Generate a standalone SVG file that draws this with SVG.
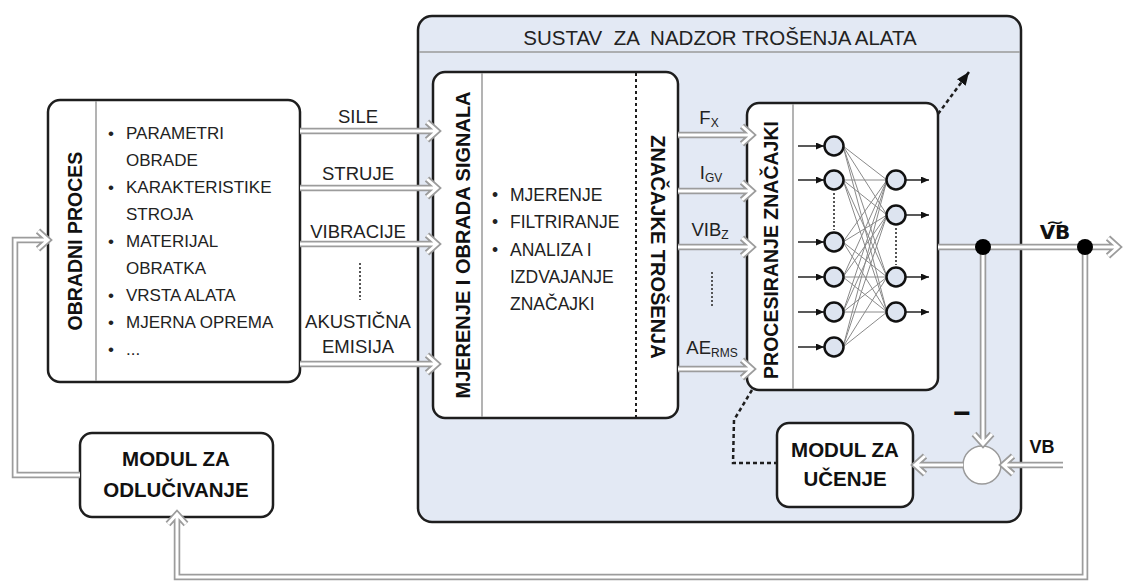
<svg xmlns="http://www.w3.org/2000/svg" width="1123" height="581" viewBox="0 0 1123 581">
<defs>
<style>
text{font-family:"Liberation Sans",Arial,sans-serif;fill:#222}
.t{font-size:17px}
.t2{font-size:17.5px}
.lb{font-size:18.5px}
.b{font-weight:bold;fill:#111}
.box{fill:#fff;stroke:#1e1e1e;stroke-width:2.5}
.sys{fill:#e3e9f4;stroke:#1e1e1e;stroke-width:2.5}
.div{stroke:#9a9a9a;stroke-width:1.5}
.out{fill:none;stroke:#9c9c9c;stroke-width:6.5;stroke-linejoin:miter}
.in{fill:none;stroke:#fff;stroke-width:3;stroke-linejoin:miter}
.nn{fill:none;stroke:#8a8a8a;stroke-width:1}
.nd{fill:#dde4f0;stroke:#111;stroke-width:2.5}
.ar{stroke:#222;stroke-width:1.5;marker-end:url(#tri)}
.dot{stroke:#555;stroke-width:2;stroke-dasharray:2 2;fill:none}
.dash{fill:none;stroke:#1e1e1e;stroke-width:2.5;stroke-dasharray:4 3}
</style>
<marker id="tri" viewBox="0 0 8 7" refX="8" refY="3.5" markerWidth="8" markerHeight="7" markerUnits="userSpaceOnUse" orient="auto"><path d="M0,0L8,3.5L0,7z" fill="#111"/></marker>
<marker id="big" viewBox="0 0 12 10" refX="12" refY="5" markerWidth="13" markerHeight="11" markerUnits="userSpaceOnUse" orient="auto"><path d="M0,0L12,5L0,10z" fill="#111"/></marker>
<path id="a1" d="M300,131H437M427,122L437,131L427,140"/>
<path id="a2" d="M300,188H437M427,179L437,188L427,197"/>
<path id="a3" d="M300,244H437M427,235L437,244L427,253"/>
<path id="a4" d="M300,364H437M427,355L437,364L427,373"/>
<path id="a5" d="M678,135H752M742,126L752,135L742,144"/>
<path id="a6" d="M678,191H752M742,182L752,191L742,200"/>
<path id="a7" d="M678,247H752M742,238L752,247L742,256"/>
<path id="a8" d="M678,369H752M742,360L752,369L742,378"/>
<path id="a9" d="M938,247H1118M1108,238L1118,247L1108,256"/>
<path id="a10" d="M983,247V444M974,434L983,444L992,434"/>
<path id="a11" d="M1085,247V577H177V514M168,524L177,514L186,524"/>
<path id="a12" d="M1063,465H1003M1013,456L1003,465L1013,474"/>
<path id="a13" d="M963,465H915M925,456L915,465L925,474"/>
<path id="a14" d="M80,475H15V240H48M38,231L48,240L38,249"/>
</defs>
<rect width="1123" height="581" fill="#fff"/>

<g id="sustav">
<rect class="sys" x="418" y="16" width="603" height="506" rx="14"/>
<line class="div" x1="419" y1="52" x2="1020" y2="52"/>
<text x="720" y="45" text-anchor="middle" xml:space="preserve" style="font-size:20.5px;white-space:pre">SUSTAV  ZA  NADZOR TROŠENJA ALATA</text>
</g>

<g id="obradni-proces">
<rect class="box" x="48" y="100" width="252" height="282" rx="12"/>
<line class="div" x1="96" y1="101" x2="96" y2="381"/>
<text class="b" transform="translate(82,241) rotate(-90)" text-anchor="middle" style="font-size:19.5px">OBRADNI PROCES</text>
<g class="t">
<text x="108" y="139">•</text><text x="126" y="139">PARAMETRI</text>
<text x="126" y="166">OBRADE</text>
<text x="108" y="193">•</text><text x="126" y="193">KARAKTERISTIKE</text>
<text x="126" y="220">STROJA</text>
<text x="108" y="247">•</text><text x="126" y="247">MATERIJAL</text>
<text x="126" y="274">OBRATKA</text>
<text x="108" y="301">•</text><text x="126" y="301">VRSTA ALATA</text>
<text x="108" y="328">•</text><text x="126" y="328">MJERNA OPREMA</text>
<text x="108" y="355">•</text><text x="126" y="355">...</text>
</g>
</g>

<g id="mjerenje">
<rect class="box" x="433" y="72" width="245" height="346" rx="12"/>
<line class="div" x1="482" y1="73" x2="482" y2="417"/>
<line x1="636" y1="73" x2="636" y2="417" stroke="#1e1e1e" stroke-width="2" stroke-dasharray="3 3"/>
<text class="b" transform="translate(470,245) rotate(-90)" text-anchor="middle" style="font-size:20px">MJERENJE I OBRADA SIGNALA</text>
<text class="b" transform="translate(651,247) rotate(90)" text-anchor="middle" style="font-size:20px">ZNAČAJKE TROŠENJA</text>
<g class="t2">
<text x="492" y="201">•</text><text x="510" y="201">MJERENJE</text>
<text x="492" y="228">•</text><text x="510" y="228">FILTRIRANJE</text>
<text x="492" y="256">•</text><text x="510" y="256">ANALIZA I</text>
<text x="510" y="283">IZDVAJANJE</text>
<text x="510" y="310">ZNAČAJKI</text>
</g>
</g>

<g id="procesiranje">
<rect class="box" x="747" y="103" width="191" height="287" rx="12"/>
<line class="div" x1="793" y1="104" x2="793" y2="389"/>
<text class="b" transform="translate(778,250) rotate(-90)" text-anchor="middle" style="font-size:19.5px">PROCESIRANJE ZNAČAJKI</text>
<path class="nn" d="M843,146L887,180M843,146L887,215M843,146L887,277M843,146L887,312M843,180L887,180M843,180L887,215M843,180L887,277M843,180L887,312M843,242L887,180M843,242L887,215M843,242L887,277M843,242L887,312M843,277L887,180M843,277L887,215M843,277L887,277M843,277L887,312M843,312L887,180M843,312L887,215M843,312L887,277M843,312L887,312M843,347L887,180M843,347L887,215M843,347L887,277M843,347L887,312"/>
<line class="ar" x1="798" y1="146" x2="824" y2="146"/>
<line class="ar" x1="798" y1="180" x2="824" y2="180"/>
<line class="ar" x1="798" y1="242" x2="824" y2="242"/>
<line class="ar" x1="798" y1="277" x2="824" y2="277"/>
<line class="ar" x1="798" y1="312" x2="824" y2="312"/>
<line class="ar" x1="798" y1="347" x2="824" y2="347"/>
<line class="ar" x1="906" y1="180" x2="929" y2="180"/>
<line class="ar" x1="906" y1="215" x2="929" y2="215"/>
<line class="ar" x1="906" y1="277" x2="929" y2="277"/>
<line class="ar" x1="906" y1="312" x2="929" y2="312"/>
<circle class="nd" cx="834" cy="146" r="9.5"/>
<circle class="nd" cx="834" cy="180" r="9.5"/>
<circle class="nd" cx="834" cy="242" r="9.5"/>
<circle class="nd" cx="834" cy="277" r="9.5"/>
<circle class="nd" cx="834" cy="312" r="9.5"/>
<circle class="nd" cx="834" cy="347" r="9.5"/>
<circle class="nd" cx="896" cy="180" r="9.5"/>
<circle class="nd" cx="896" cy="215" r="9.5"/>
<circle class="nd" cx="896" cy="277" r="9.5"/>
<circle class="nd" cx="896" cy="312" r="9.5"/>
<path class="dot" d="M834,193V230M896,228V265"/>
</g>

<g id="modul-ucenje">
<rect class="box" x="777" y="423" width="136" height="84" rx="12"/>
<text class="b" x="845" y="457" text-anchor="middle" style="font-size:20.5px">MODUL ZA</text>
<text class="b" x="845" y="486" text-anchor="middle" style="font-size:20.5px">UČENJE</text>
</g>

<g id="modul-odlucivanje">
<rect class="box" x="80" y="433" width="193" height="84" rx="12"/>
<text class="b" x="176" y="466" text-anchor="middle" style="font-size:20.5px">MODUL ZA</text>
<text class="b" x="176" y="497" text-anchor="middle" style="font-size:20.5px">ODLUČIVANJE</text>
</g>

<g id="sumator">
<circle cx="982" cy="465" r="19" fill="#fff" stroke="#9a9a9a" stroke-width="1.5"/>
</g>

<g id="connectors">
<g class="out">
<use href="#a1"/><use href="#a2"/><use href="#a3"/><use href="#a4"/>
<use href="#a5"/><use href="#a6"/><use href="#a7"/><use href="#a8"/>
<use href="#a9"/><use href="#a10"/><use href="#a11"/><use href="#a12"/>
<use href="#a13"/><use href="#a14"/>
</g>
<g class="in">
<use href="#a1"/><use href="#a2"/><use href="#a3"/><use href="#a4"/>
<use href="#a5"/><use href="#a6"/><use href="#a7"/><use href="#a8"/>
<use href="#a9"/><use href="#a10"/><use href="#a11"/><use href="#a12"/>
<use href="#a13"/><use href="#a14"/>
</g>
<circle cx="983" cy="247" r="8" fill="#000"/>
<circle cx="1085" cy="247" r="8" fill="#000"/>
<path class="dash" d="M938,114L969,72" marker-end="url(#big)"/>
<path class="dash" d="M752,390L734,420L733,463L777,463"/>
<path class="dot" d="M360,263V300M712,272V308"/>
</g>

<g id="labels">
<g class="lb">
<text x="358" y="123" text-anchor="middle">SILE</text>
<text x="358" y="180" text-anchor="middle">STRUJE</text>
<text x="358" y="238" text-anchor="middle">VIBRACIJE</text>
<text x="358" y="328" text-anchor="middle">AKUSTIČNA</text>
<text x="358" y="353" text-anchor="middle">EMISIJA</text>
<text x="709" y="124" text-anchor="middle">F<tspan font-size="12" dy="3">X</tspan></text>
<text x="711" y="179" text-anchor="middle">I<tspan font-size="12" dy="3">GV</tspan></text>
<text x="710" y="236" text-anchor="middle">VIB<tspan font-size="12" dy="3">Z</tspan></text>
<text x="712" y="354" text-anchor="middle">AE<tspan font-size="12" dy="3">RMS</tspan></text>
</g>
<text class="b" x="1055" y="239" text-anchor="middle" style="font-size:20px;font-family:'DejaVu Sans',sans-serif">V&#x360;B</text>
<text class="b" x="1042" y="453" text-anchor="middle" style="font-size:18px">VB</text>
<text class="b" x="962" y="423" text-anchor="middle" style="font-size:30px">−</text>
</g>
</svg>
